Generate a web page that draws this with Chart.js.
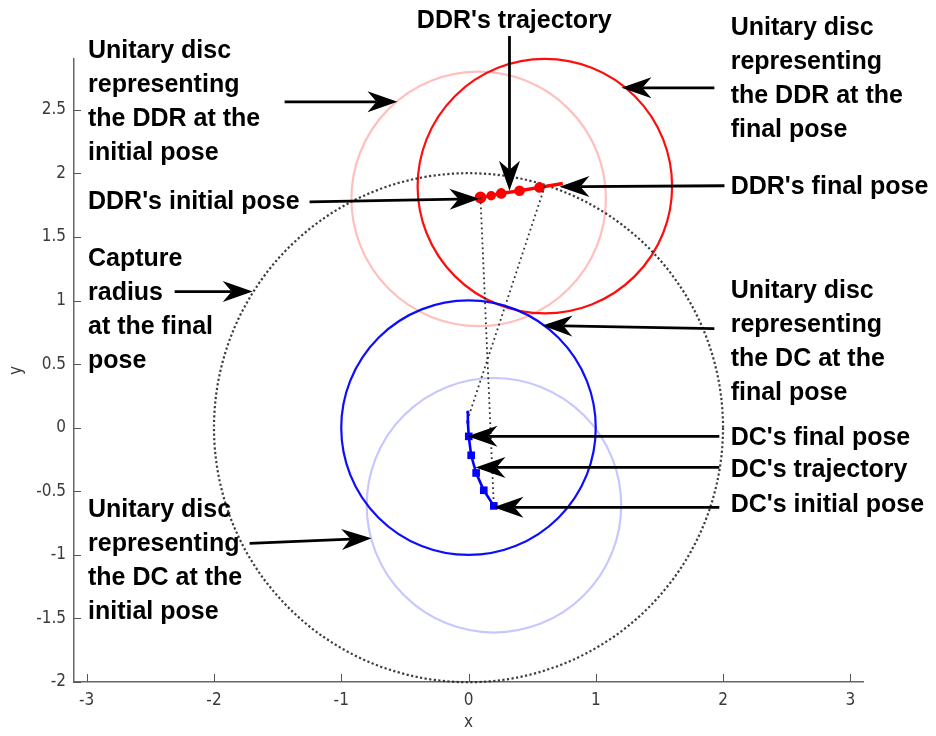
<!DOCTYPE html>
<html>
<head>
<meta charset="utf-8">
<script src="https://cdn.jsdelivr.net/npm/chart.js@4.4.1/dist/chart.umd.min.js"></script>
<style>html,body{margin:0;padding:0;background:#fff;}canvas{display:block;}</style>
</head>
<body>
<canvas id="c" width="936" height="736"></canvas>
<script>
// axis ticks
const xTicks = [-3, -2, -1, 0, 1, 2, 3];
const yTicks = [-2, -1.5, -1, -0.5, 0, 0.5, 1, 1.5, 2, 2.5];

// DDR trajectory (initial -> final)
const ddrX = [0.094, 0.178, 0.257, 0.401, 0.558, 0.741];
const ddrY = [1.811, 1.825, 1.843, 1.864, 1.890, 1.921];

// DC trajectory (initial -> final)
const dcX = [0.199, 0.120, 0.060, 0.021, 0.002, -0.005, -0.005];
const dcY = [-0.615, -0.492, -0.356, -0.217, -0.068, 0.044, 0.123];

// unit discs: centre x, centre y
const ddrInitialDisc = [0.08, 1.80];
const ddrFinalDisc = [0.60, 1.90];
const dcInitialDisc = [0.20, -0.61];
const dcFinalDisc = [0.00, 0.00];
const discRadius = 1;

// capture circle
const captureCenter = [0, 0];
const captureRadius = 2;

// segments joining the two robots at the first and last instants
const linkInitialX = [0.094, 0.199];
const linkInitialY = [1.811, -0.615];
const linkFinalX = [0.600, -0.005];
const linkFinalY = [1.900, 0.070];

const toPts = (xs, ys) => xs.map((v, i) => ({x: v, y: ys[i]}));

// text callouts, anchored in axis units (left edge / centre line of first row)
const notes = [
  {lines: ['Unitary disc', 'representing', 'the DDR at the', 'initial pose'], at: [-2.99, 2.963], align: 'left'},
  {lines: ["DDR's initial pose"], at: [-2.99, 1.777], align: 'left'},
  {lines: ['Capture', 'radius', 'at the final', 'pose'], at: [-2.99, 1.330], align: 'left'},
  {lines: ['Unitary disc', 'representing', 'the DC at the', 'initial pose'], at: [-2.99, -0.649], align: 'left'},
  {lines: ["DDR's trajectory"], at: [0.36, 3.199], align: 'center'},
  {lines: ['Unitary disc', 'representing', 'the DDR at the', 'final pose'], at: [2.06, 3.144], align: 'left'},
  {lines: ["DDR's final pose"], at: [2.06, 1.895], align: 'left'},
  {lines: ['Unitary disc', 'representing', 'the DC at the', 'final pose'], at: [2.06, 1.078], align: 'left'},
  {lines: ["DC's final pose"], at: [2.06, -0.083], align: 'left'},
  {lines: ["DC's trajectory"], at: [2.06, -0.334], align: 'left'},
  {lines: ["DC's initial pose"], at: [2.06, -0.612], align: 'left'}
];

// arrows: tail -> tip, in axis units
const arrows = [
  {from: [-1.445, 2.563], to: [-0.558, 2.563]},
  {from: [-1.249, 1.777], to: [0.086, 1.801]},
  {from: [0.322, 3.081], to: [0.322, 1.864]},
  {from: [1.932, 2.673], to: [1.202, 2.673]},
  {from: [2.011, 1.903], to: [0.715, 1.895]},
  {from: [-2.309, 1.071], to: [-1.696, 1.071]},
  {from: [1.932, 0.780], to: [0.581, 0.804]},
  {from: [1.971, -0.068], to: [-0.008, -0.068]},
  {from: [1.971, -0.312], to: [0.055, -0.312]},
  {from: [1.971, -0.626], to: [0.196, -0.626]},
  {from: [-1.720, -0.909], to: [-0.762, -0.869]}
];

const tickFont = {family: "'Liberation Sans Narrow', 'DejaVu Sans Condensed', 'Liberation Sans', sans-serif", size: 17};
const noteFont = "bold 25px 'Liberation Sans', Arial, sans-serif";

function toPx(chart, p) {
  return [chart.scales.x.getPixelForValue(p[0]), chart.scales.y.getPixelForValue(p[1])];
}

const figurePlugin = {
  id: 'figure',
  beforeDatasetsDraw(chart) {
    const ctx = chart.ctx;
    const sx = chart.scales.x;
    const unit = sx.getPixelForValue(1) - sx.getPixelForValue(0);
    const circle = (c, r, color, width, dash) => {
      const [cx, cy] = toPx(chart, c);
      ctx.save();
      ctx.beginPath();
      ctx.strokeStyle = color;
      ctx.lineWidth = width;
      ctx.setLineDash(dash || []);
      ctx.arc(cx, cy, r * unit, 0, Math.PI * 2);
      ctx.stroke();
      ctx.restore();
    };
    circle(ddrInitialDisc, discRadius, 'rgba(255,0,0,0.25)', 2.2);
    circle(dcInitialDisc, discRadius, 'rgba(0,0,255,0.22)', 2.2);
    circle(ddrFinalDisc, discRadius, 'rgba(255,0,0,0.95)', 2.2);
    circle(dcFinalDisc, discRadius, 'rgba(0,0,255,0.95)', 2.2);
    circle(captureCenter, captureRadius, 'rgba(40,40,40,0.9)', 2.2, [2.2, 2.4]);
  },
  afterDraw(chart) {
    const ctx = chart.ctx;
    const {x: sx, y: sy} = chart.scales;
    const area = chart.chartArea;
    // inward tick marks
    ctx.save();
    ctx.strokeStyle = '#555';
    ctx.lineWidth = 1;
    xTicks.forEach(v => {
      const p = Math.round(sx.getPixelForValue(v)) + 0.5;
      ctx.beginPath();
      ctx.moveTo(p, area.bottom);
      ctx.lineTo(p, area.bottom - 8);
      ctx.stroke();
    });
    yTicks.forEach(v => {
      const p = Math.round(sy.getPixelForValue(v)) + 0.5;
      ctx.beginPath();
      ctx.moveTo(area.left, p);
      ctx.lineTo(area.left + 7, p);
      ctx.stroke();
    });
    ctx.restore();

    // arrows
    ctx.save();
    ctx.fillStyle = '#000';
    ctx.strokeStyle = '#000';
    arrows.forEach(a => {
      const [x0, y0] = toPx(chart, a.from);
      const [x1, y1] = toPx(chart, a.to);
      const ang = Math.atan2(y1 - y0, x1 - x0);
      const L = 30, W = 10.5, N = 21;
      const cos = Math.cos(ang), sin = Math.sin(ang);
      ctx.lineWidth = 2.8;
      ctx.beginPath();
      ctx.moveTo(x0, y0);
      ctx.lineTo(x1 - N * cos, y1 - N * sin);
      ctx.stroke();
      ctx.beginPath();
      ctx.moveTo(x1, y1);
      ctx.lineTo(x1 - L * cos + W * sin, y1 - L * sin - W * cos);
      ctx.lineTo(x1 - N * cos, y1 - N * sin);
      ctx.lineTo(x1 - L * cos - W * sin, y1 - L * sin + W * cos);
      ctx.closePath();
      ctx.fill();
    });
    ctx.restore();

    // callout text
    ctx.save();
    ctx.font = noteFont;
    ctx.fillStyle = '#000';
    ctx.textBaseline = 'middle';
    notes.forEach(n => {
      const [x, y] = toPx(chart, n.at);
      ctx.textAlign = n.align;
      n.lines.forEach((t, i) => ctx.fillText(t, x, y + i * 34));
    });
    ctx.restore();
  }
};

new Chart(document.getElementById('c'), {
  type: 'scatter',
  data: {
    datasets: [
      {
        data: toPts(linkInitialX, linkInitialY), showLine: true,
        borderColor: 'rgba(40,40,40,0.95)', borderWidth: 1.8, borderDash: [1.8, 3.2],
        pointRadius: 0
      },
      {
        data: toPts(linkFinalX, linkFinalY), showLine: true,
        borderColor: 'rgba(40,40,40,0.95)', borderWidth: 1.8, borderDash: [1.8, 3.2],
        pointRadius: 0
      },
      {
        data: toPts(ddrX, ddrY), showLine: true,
        borderColor: '#ff0000', borderWidth: 3.4,
        pointBackgroundColor: '#ff0000', pointBorderColor: '#ff0000',
        pointRadius: [4.2, 3, 3.6, 3.6, 3.6, 0], pointStyle: 'circle'
      },
      {
        data: toPts(dcX, dcY), showLine: true,
        borderColor: '#0000ff', borderWidth: 2.6,
        pointBackgroundColor: '#0000ff', pointBorderColor: '#0000ff', pointBorderWidth: 0,
        pointRadius: [5.4, 5.4, 5.4, 5.4, 5.4, 2, 2], pointStyle: 'rect'
      }
    ]
  },
  options: {
    responsive: false,
    animation: false,
    events: [],
    layout: {padding: {top: 59, right: 73, left: 0, bottom: 0}},
    plugins: {legend: {display: false}, tooltip: {enabled: false}},
    scales: {
      x: {
        type: 'linear', min: -3.1, max: 3.1,
        afterBuildTicks: s => { s.ticks = xTicks.map(v => ({value: v})); },
        afterFit: s => { s.height = 54; },
        grid: {display: false, drawTicks: false},
        border: {display: true, color: '#666', width: 1.5},
        ticks: {padding: 8, font: tickFont, color: '#3a3a3a', maxRotation: 0, autoSkip: false,
                callback: v => String(v)},
        title: {display: true, text: 'x', font: tickFont, color: '#3a3a3a', padding: {top: 0, bottom: 3}}
      },
      y: {
        type: 'linear', min: -2, max: 2.9,
        afterBuildTicks: s => { s.ticks = yTicks.map(v => ({value: v})); },
        afterFit: s => { s.width = 74; },
        grid: {display: false, drawTicks: false},
        border: {display: true, color: '#666', width: 1.5},
        ticks: {padding: 8, font: tickFont, color: '#3a3a3a', autoSkip: false,
                callback: v => String(v)},
        title: {display: true, text: 'y', font: tickFont, color: '#3a3a3a', padding: {top: 6, bottom: 0}}
      }
    }
  },
  plugins: [figurePlugin]
});
</script>
</body>
</html>
